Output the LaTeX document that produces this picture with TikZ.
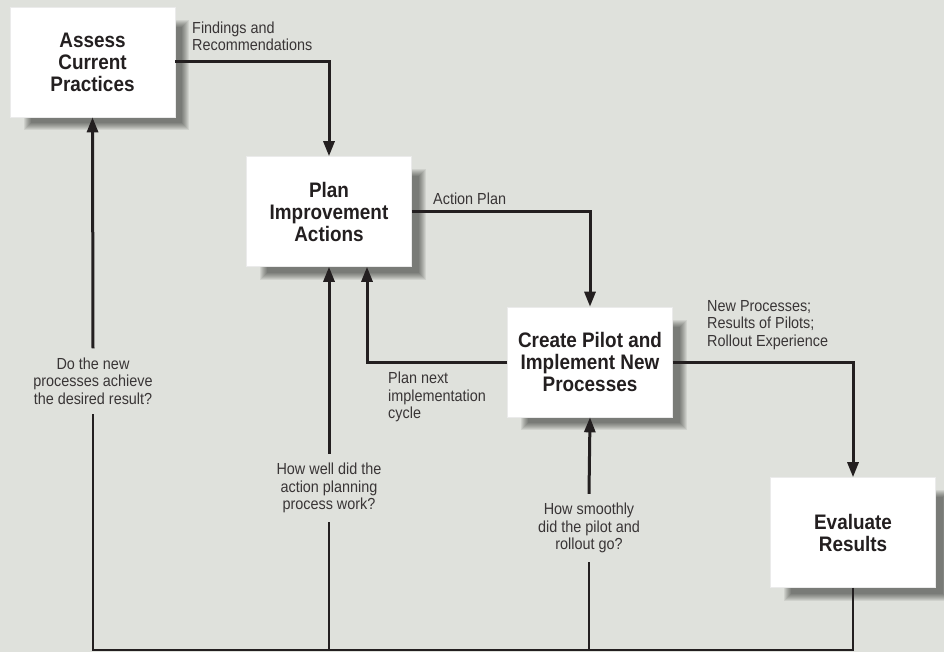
\documentclass[tikz,border=0pt]{standalone}
\usepackage{fontspec}
\setmainfont{Liberation Sans}
\newfontfamily\narrowfont[FakeStretch=0.9]{Liberation Sans}
\usetikzlibrary{arrows.meta}
\pgfdeclarelayer{background}
\pgfsetlayers{background,main}
\definecolor{bg}{RGB}{223,225,220}
\definecolor{ink}{RGB}{35,31,32}
\tikzstyle{stage}=[rectangle, fill=white, draw=white!92!black, line width=0.6pt,
    minimum width=165pt, minimum height=110pt, align=center, text=ink,
    font=\narrowfont\fontsize{21}{22}\selectfont\bfseries]
\tikzstyle{note}=[align=left, text=ink!90, inner sep=0pt, font=\narrowfont\fontsize{16}{17.5}\selectfont]
\tikzstyle{ask}=[align=center, text=ink!90, inner xsep=0pt, inner ysep=9pt, font=\narrowfont\fontsize{16}{17.5}\selectfont]
\tikzstyle{flow}=[draw=ink, line width=3pt, -{Triangle[length=15pt,width=11pt]}]
\tikzstyle{back}=[draw=ink, line width=2pt]
\newcommand{\stage}{\node[stage]}

\begin{document}
\begin{tikzpicture}[x=1pt, y=-1pt]
\useasboundingbox (0,0) rectangle (944,652);
\coordinate (base) at (0,650);
\stage (assess) at (92.5,62) {Assess\\Current\\Practices};
\stage (plan) at (329,211.5) {Plan\\Improvement\\Actions};
\stage (create) at (590,362) {Create Pilot and\\Implement New\\Processes};
\stage (evaluate) at (853,532.5) {Evaluate\\Results};
% page colour and soft shadows behind the boxes
\begin{pgfonlayer}{background}
\fill[bg] (0,0) rectangle (944,652);
\foreach \n in {assess,plan,create,evaluate}
  \foreach \r in {0,...,7}
    \fill[black, opacity=0.07] ([shift={(14+\r,13+\r)}]\n.north west)
        rectangle ([shift={(14-\r,13-\r)}]\n.south east);
\end{pgfonlayer}
% labels of the forward flows
\node[note, anchor=south west] (findings) at (192,51) {Findings and\\Recommendations};
\node[note, anchor=south west] (actplan) at (433,205) {Action Plan};
\node[note, anchor=south west] (newproc) at (707,350) {New Processes;\\Results of Pilots;\\Rollout Experience};
\node[note, anchor=north west] (nextcycle) at (388,372) {Plan next\\implementation\\cycle};
% questions on the feedback lines
\node[ask] (q1) at (93,381) {Do the new\\processes achieve\\the desired result?};
\node[ask] (q2) at (329,488) {How well did the\\action planning\\process work?};
\node[ask] (q3) at (589,528) {How smoothly\\did the pilot and\\rollout go?};
\draw[flow] (assess.east) -| (plan.north);
\draw[flow] (plan.east) -| (create.north);
\draw[flow] (create.east) -| (evaluate.north);
\draw[flow] (create.west) -| ([xshift=38pt]plan.south);
\draw[back] (evaluate.south) |- (q1 |- base) -- (q1.south);
\draw[back] (q2 |- base) -- (q2.south);
\draw[back] (q3 |- base) -- (q3.south);
\draw[flow] (q1.north) -- (assess.south);
\draw[flow] (q2.north) -- (plan.south);
\draw[flow] (q3.north) -- (create.south);
\end{tikzpicture}
\end{document}
